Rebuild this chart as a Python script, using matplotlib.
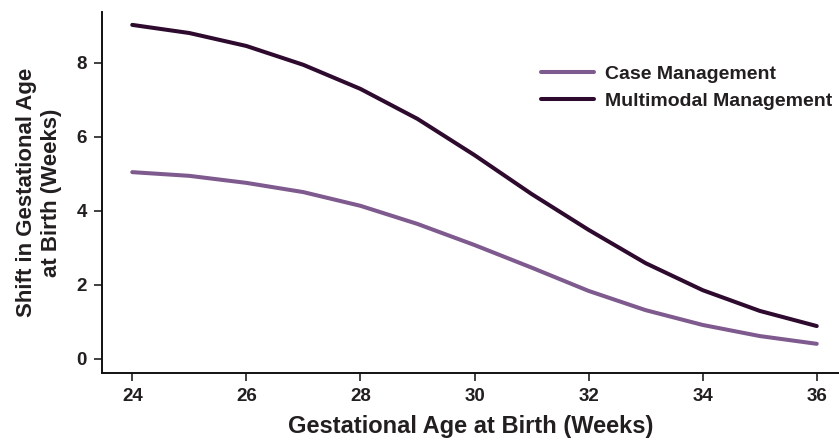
import matplotlib.pyplot as plt

plt.rcParams['font.family'] = ['Liberation Sans', 'DejaVu Sans']
plt.rcParams['font.weight'] = 'bold'

weeks = [24, 25, 26, 27, 28, 29, 30, 31, 32, 33, 34, 35, 36]
case_mgmt = [5.05, 4.95, 4.76, 4.51, 4.14, 3.65, 3.08, 2.47, 1.84, 1.32, 0.92, 0.62, 0.41]
multimodal = [9.03, 8.81, 8.46, 7.95, 7.30, 6.49, 5.51, 4.46, 3.49, 2.59, 1.86, 1.30, 0.89]
x_ticks = [24, 26, 28, 30, 32, 34, 36]
y_ticks = [0, 2, 4, 6, 8]

text_col = '#231f20'

fig = plt.figure(figsize=(8.39, 4.42), dpi=100)
ax = fig.add_axes([0.1216, 0.156, 0.8784, 0.817])

ax.plot(weeks, case_mgmt, color='#7f5a8e', lw=2.9, solid_capstyle='round', label='Case Management')
ax.plot(weeks, multimodal, color='#2d0a2e', lw=2.9, solid_capstyle='round', label='Multimodal Management')

ax.set_xlim(23.47, 36.39)
ax.set_ylim(-0.38, 9.38)
ax.set_xticks(x_ticks)
ax.set_yticks(y_ticks)
ax.tick_params(length=6, width=1.2, colors=text_col, labelsize=13.5, pad=5)
for s in ['top', 'right']:
    ax.spines[s].set_visible(False)
for s in ['left', 'bottom']:
    ax.spines[s].set_linewidth(1.4)
    ax.spines[s].set_color('#111111')

ax.set_xlabel('Gestational Age at Birth (Weeks)', fontsize=17, fontweight='bold',
              color=text_col, labelpad=7)
ax.set_ylabel('Shift in Gestational Age\nat Birth (Weeks)', fontsize=16, fontweight='bold',
              color=text_col, labelpad=10, linespacing=1.3)

leg = ax.legend(loc='upper left', bbox_to_anchor=(0.572, 0.9), frameon=False,
                fontsize=14, handlelength=2.7, handletextpad=0.6, labelspacing=0.45)
for t in leg.get_texts():
    t.set_color(text_col)

plt.savefig('out.png', dpi=100)
